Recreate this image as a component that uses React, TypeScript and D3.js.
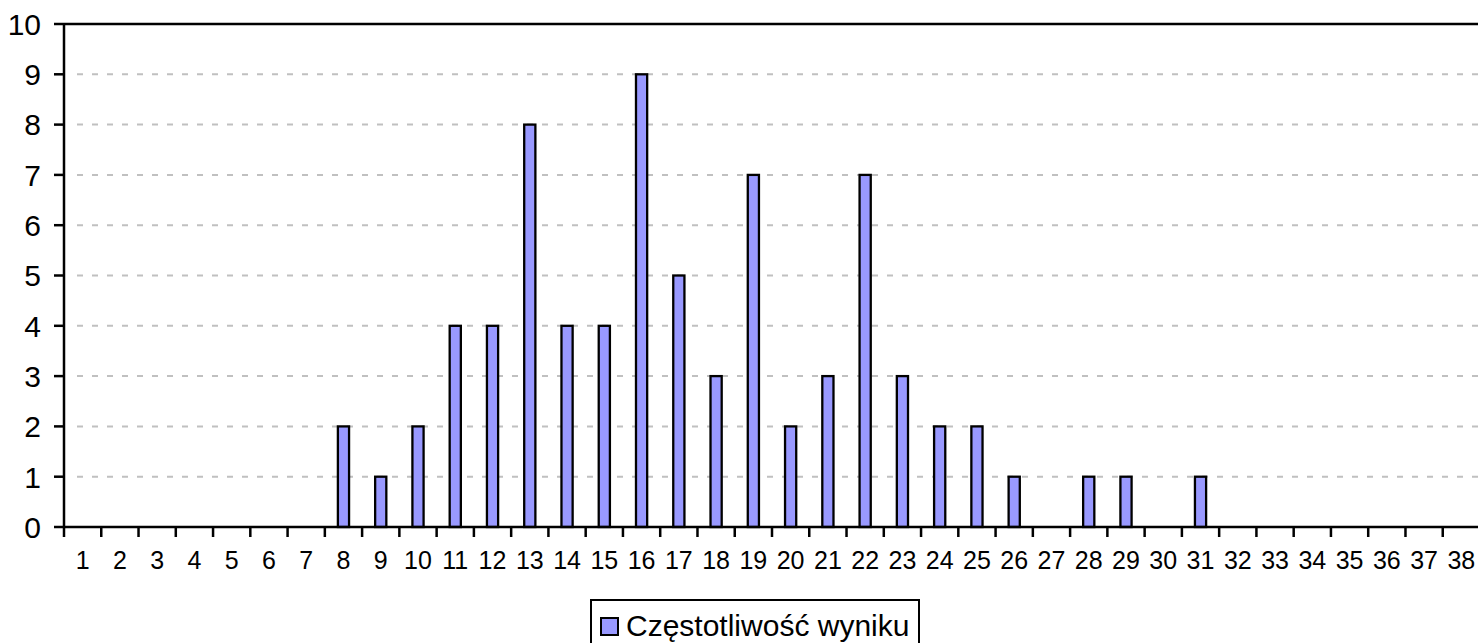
import { useEffect } from "react";
import * as d3 from "d3";

// frequency of each score 1..38
const categories = d3.range(1, 39).map(String);
const counts = [0, 0, 0, 0, 0, 0, 0, 2, 1, 2, 4, 4, 8, 4, 4, 9, 5, 3, 7, 2, 3, 7, 3, 2, 2, 1, 0, 1, 1, 0, 1, 0, 0, 0, 0, 0, 0, 0];
const yTicks = [0, 1, 2, 3, 4, 5, 6, 7, 8, 9, 10];
const seriesName = "Częstotliwość wyniku";

const W = 1478;
const H = 643;
const margin = { top: 24, left: 64, bottom: 527 };
const plotRight = 1480;
const barFill = "#9999ff";
const font = "'Liberation Sans', Arial, sans-serif";

export default function App() {
    useEffect(() => {
        document.body.style.margin = "0";
        document.body.style.overflow = "hidden";
    }, []);

    const x = d3.scaleBand().domain(categories).range([margin.left, plotRight]).padding(0);
    const y = d3.scaleLinear().domain([0, 10]).range([margin.bottom, margin.top]);
    const barW = x.bandwidth() * 0.3;

    return (
        <svg width={W} height={H} style={{ display: "block", background: "#fff" }} fontFamily={font}>
            {/* grid */}
            {yTicks.filter(t => t > 0 && t < 10).map(t => (
                <line key={"g" + t} x1={margin.left + 13} x2={plotRight} y1={y(t)} y2={y(t)}
                    stroke="#c0c0c0" strokeWidth={2} strokeDasharray="6,9" />
            ))}
            {/* top border */}
            <line x1={margin.left} x2={plotRight} y1={y(10)} y2={y(10)} stroke="#000" strokeWidth={2.5} />

            {/* bars */}
            {counts.map((v, i) => v > 0 && (
                <rect key={"b" + i}
                    x={x(categories[i])! + (x.bandwidth() - barW) / 2}
                    y={y(v)}
                    width={barW}
                    height={y(0) - y(v)}
                    fill={barFill} stroke="#000" strokeWidth={2.3} />
            ))}

            {/* y axis */}
            <line x1={margin.left} x2={margin.left} y1={y(10)} y2={y(0)} stroke="#000" strokeWidth={2.5} />
            {yTicks.map(t => (
                <g key={"y" + t}>
                    <line x1={margin.left - 10} x2={margin.left} y1={y(t)} y2={y(t)} stroke="#000" strokeWidth={2.5} />
                    <text x={41} y={y(t)} dy="0.36em" textAnchor="end" fontSize={30} fill="#000">{t}</text>
                </g>
            ))}

            {/* x axis */}
            <line x1={margin.left} x2={plotRight} y1={y(0)} y2={y(0)} stroke="#000" strokeWidth={2.5} />
            {categories.map(c => (
                <g key={"x" + c}>
                    <line x1={x(c)!} x2={x(c)!} y1={y(0)} y2={y(0) + 10} stroke="#000" strokeWidth={2.5} />
                    <text x={x(c)! + x.bandwidth() / 2} y={569} textAnchor="middle" fontSize={25} fill="#000">{c}</text>
                </g>
            ))}

            {/* legend */}
            <rect x={591} y={600} width={328} height={52} fill="#fff" stroke="#000" strokeWidth={2} />
            <rect x={601} y={618} width={17} height={17} fill={barFill} stroke="#000" strokeWidth={2} />
            <text x={626} y={636} fontSize={30} fill="#000">{seriesName}</text>
        </svg>
    );
}
